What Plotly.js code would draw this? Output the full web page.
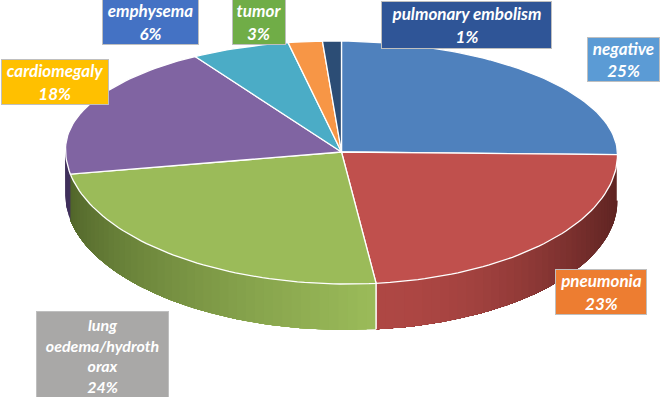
<!DOCTYPE html>
<html>
<head>
<meta charset="utf-8">
<script src="https://cdn.plot.ly/plotly-3.0.1.min.js"></script>
<style>html,body{margin:0;padding:0;background:#fff;overflow:hidden}#chart{width:661px;height:397px}</style>
</head>
<body>
<div id="chart"></div>
<script>
// Data
var categories = ['negative', 'pneumonia', 'lung oedema/hydrothorax', 'cardiomegaly', 'emphysema', 'tumor', 'pulmonary embolism'];
var printedPercent = [25, 23, 24, 18, 6, 3, 1];
var drawnShare = [25, 23, 24, 19.1, 5.8, 2, 1.1];
var labelLines = [['negative'], ['pneumonia'], ['lung', 'oedema/hydroth', 'orax'], ['cardiomegaly'], ['emphysema'], ['tumor'], ['pulmonary embolism']];

// Styles
var faceColors = ['#4f81bd', '#c0504d', '#9bbb59', '#8064a2', '#4bacc6', '#f79646', '#2c4d75'];
var labelColors = ['#5b9bd5', '#ed7d31', '#a9a8a7', '#ffc000', '#4472c4', '#70ad47', '#2f5597'];
var labelSizes = [17, 17, 16, 17, 17, 17, 17];
var wallRamps = [null, [[174, 71, 68], [95, 36, 34], 2], [[78, 98, 40], [155, 187, 89], 0.6], [[64, 48, 92], [64, 48, 92], 1], null, null, null];
var boxX = [[587, 660], [555, 647], [36, 169], [1, 109], [102, 199], [232, 286], [381, 552]];
var boxY = [[37, 82], [269, 315], [311, 400], [59, 105], [-1, 45], [-1, 45], [1, 49]];

// Pie projection
var cx = 341.5, cy = 152, rx = 276, ryBack = 111, ryFront = 132, depth = 46, tilt = 0.0095;
function pt(a, drop) {
  var r = a * Math.PI / 180, s = Math.sin(r), c = Math.cos(r);
  var x = cx + rx * s;
  return [x, cy - (c > 0 ? ryBack : ryFront) * c + (x - cx) * tilt + (drop || 0)];
}
function arcRange(a0, a1, step) {
  var out = [], n = Math.max(2, Math.ceil((a1 - a0) / step));
  for (var i = 0; i <= n; i++) out.push(a0 + (a1 - a0) * i / n);
  return out;
}
function polygon(points, fill, lineColor, lineWidth) {
  return {
    type: 'scatter', mode: 'lines', fill: 'toself', fillcolor: fill,
    x: points.map(function (p) { return p[0]; }), y: points.map(function (p) { return p[1]; }),
    line: { color: lineColor, width: lineWidth }, hoverinfo: 'skip', showlegend: false
  };
}
function mix(ramp, t) {
  var k = Math.pow(Math.max(0, Math.min(1, t)), ramp[2]);
  return 'rgb(' + [0, 1, 2].map(function (i) { return Math.round(ramp[0][i] + (ramp[1][i] - ramp[0][i]) * k); }).join(',') + ')';
}

var total = drawnShare.reduce(function (a, b) { return a + b; }, 0);
var bounds = [0];
drawnShare.forEach(function (v, i) { bounds.push(bounds[i] + v / total * 360); });

var traces = [];
// Side wall: each strip runs to the end of its slice, so later strips paint over it with no seams
drawnShare.forEach(function (v, i) {
  var a0 = Math.max(bounds[i], 90), a1 = Math.min(bounds[i + 1], 270);
  if (a1 <= a0 || !wallRamps[i]) return;
  var xa = pt(a0)[0], xb = pt(a1)[0];
  var stops = arcRange(a0, a1, 2);
  for (var k = 0; k < stops.length - 1; k++) {
    var rest = stops.slice(k);
    var upper = rest.map(function (a) { return pt(a); });
    var lower = rest.slice().reverse().map(function (a) { return pt(a, depth); });
    var mid = (pt(stops[k])[0] + pt(stops[k + 1])[0]) / 2;
    var t = (mid - Math.min(xa, xb)) / Math.abs(xa - xb);
    traces.push(polygon(upper.concat(lower, [upper[0]]), mix(wallRamps[i], t), 'rgba(0,0,0,0)', 0));
  }
});
// White seam between front wall sections
bounds.slice(1, -1).forEach(function (b) {
  if (b > 90 && b < 250) {
    var top = pt(b), bot = pt(b, depth);
    traces.push({ type: 'scatter', mode: 'lines', x: [top[0], bot[0]], y: [top[1], bot[1]],
      line: { color: '#ffffff', width: 1.5 }, hoverinfo: 'skip', showlegend: false });
  }
});
// Top faces
drawnShare.forEach(function (v, i) {
  var pts = [[cx, cy]];
  arcRange(bounds[i], bounds[i + 1], 1.5).forEach(function (a) { pts.push(pt(a)); });
  pts.push([cx, cy]);
  traces.push(polygon(pts, faceColors[i], '#ffffff', 1.3));
});

var annotations = categories.map(function (c, i) {
  var lines = labelLines[i].concat([printedPercent[i] + '%']);
  return {
    xref: 'x', yref: 'y', x: (boxX[i][0] + boxX[i][1]) / 2, y: (boxY[i][0] + boxY[i][1]) / 2,
    xanchor: 'center', yanchor: 'middle', showarrow: false, align: 'center', valign: 'middle',
    width: boxX[i][1] - boxX[i][0] - 4, height: boxY[i][1] - boxY[i][0] - 4, borderpad: 1,
    bgcolor: labelColors[i], bordercolor: '#bfbfbf', borderwidth: 1,
    text: lines.map(function (l) { return '<b><i>' + l + '</i></b>'; }).join('<br>'),
    font: { family: 'Lato, "Open Sans", sans-serif', size: labelSizes[i], color: '#ffffff' }
  };
});

var layout = {
  width: 661, height: 397, margin: { l: 0, r: 0, t: 0, b: 0, pad: 0 },
  paper_bgcolor: '#ffffff', plot_bgcolor: '#ffffff', showlegend: false, dragmode: false,
  xaxis: { range: [0, 661], visible: false, fixedrange: true },
  yaxis: { range: [397, 0], visible: false, fixedrange: true },
  annotations: annotations
};
Plotly.newPlot('chart', traces, layout, { displayModeBar: false, staticPlot: true });
</script>
</body>
</html>
